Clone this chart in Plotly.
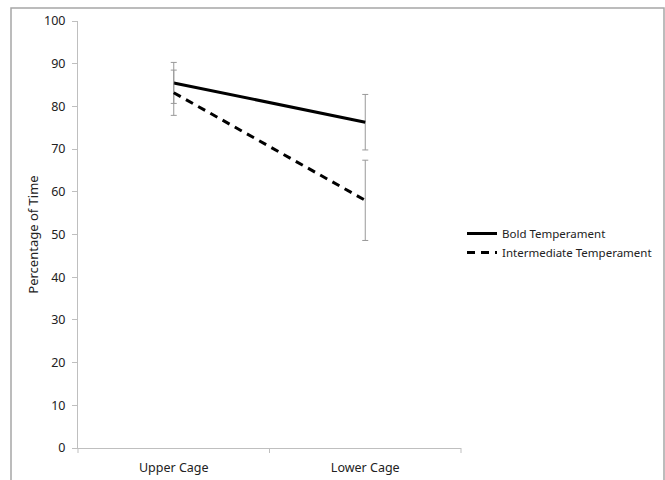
import plotly.graph_objects as go

categories = ["Upper Cage", "Lower Cage"]
bold_values = [85.5, 76.3]
bold_errors = [4.8, 6.5]
inter_values = [83.2, 58.0]
inter_errors = [5.3, 9.4]
y_ticks = [0, 10, 20, 30, 40, 50, 60, 70, 80, 90, 100]

W, H = 665, 480
L, R, T, B = 78, 204, 21, 32
pw = W - L - R
ph = H - T - B

font = dict(family="Noto Sans, Open Sans, sans-serif", size=12, color="#222")

fig = go.Figure()
fig.add_trace(go.Scatter(
    x=categories, y=bold_values, name="Bold Temperament", mode="lines",
    line=dict(color="black", width=3),
    error_y=dict(type="data", array=bold_errors, color="#999", thickness=1, width=3),
))
fig.add_trace(go.Scatter(
    x=categories, y=inter_values, name="Intermediate Temperament", mode="lines",
    line=dict(color="black", width=3, dash="8px,6px"),
    error_y=dict(type="data", array=inter_errors, color="#999", thickness=1, width=3),
))

fig.update_layout(
    width=W, height=H,
    margin=dict(l=L, r=R, t=T, b=B, autoexpand=False),
    paper_bgcolor="white", plot_bgcolor="white",
    font=font,
    showlegend=True,
    legend=dict(x=(462 - L) / pw, y=(H - B - 243) / ph, xanchor="left", yanchor="middle",
                bgcolor="rgba(0,0,0,0)", font=dict(size=11.5), tracegroupgap=0),
    xaxis=dict(
        type="category", range=[-0.5, 1.5], showgrid=False, automargin=False,
        showline=True, linecolor="#bfbfbf", linewidth=1,
        ticks="", tickfont=dict(size=12.5), ticklabelstandoff=8,
        zeroline=False,
    ),
    yaxis=dict(
        range=[0, 100], tickvals=y_ticks, showgrid=False, automargin=False,
        showline=True, linecolor="#bfbfbf", linewidth=1,
        ticks="outside", ticklen=5, tickcolor="#bfbfbf", ticklabelstandoff=4,
        tickfont=dict(size=12.5), zeroline=False,
        title=dict(text="Percentage of Time", font=dict(size=13), standoff=2),
    ),
)

# tick marks on the category axis (at edges and between categories)
for xp in [0.0, 0.5, 1.0]:
    fig.add_shape(type="line", xref="paper", yref="paper", x0=xp, x1=xp, y0=0, y1=-5 / ph,
                  line=dict(color="#bfbfbf", width=1))

# outer chart border
fig.add_shape(type="rect", xref="paper", yref="paper",
              x0=(11 - L) / pw, x1=(664 - L) / pw,
              y0=(H - B - 485) / ph, y1=(H - B - 8) / ph,
              line=dict(color="#a6a6a6", width=1.5), fillcolor="rgba(0,0,0,0)", layer="below")

fig.write_html("out.html", config={"displayModeBar": False},
               post_script="document.body.style.margin='0';")
